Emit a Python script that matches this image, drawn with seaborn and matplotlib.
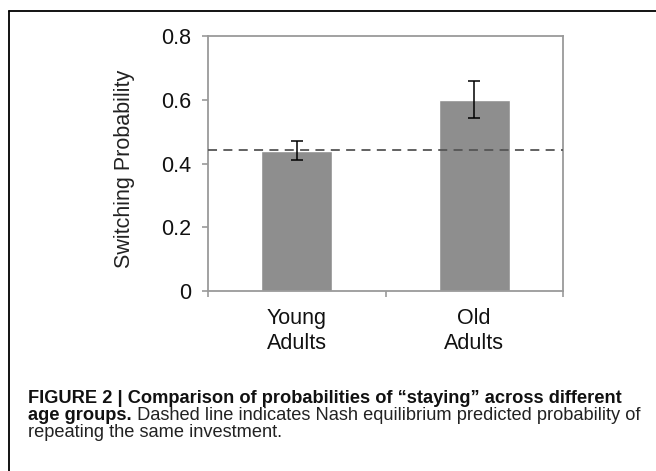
import seaborn as sns
import matplotlib.pyplot as plt
from matplotlib.lines import Line2D
from matplotlib.ticker import FixedLocator

# data
groups = ['Young\nAdults', 'Old\nAdults']
means = [0.44, 0.60]
errs = [0.030, 0.058]
nash = 0.442
yticks = [0, 0.2, 0.4, 0.6, 0.8]
yticklabels = ['0', '0.2', '0.4', '0.6', '0.8']

caption_bold1 = 'FIGURE 2 | Comparison of probabilities of \u201cstaying\u201d across different'
caption_bold2 = 'age groups.'
caption_rest2 = ' Dashed line indicates Nash equilibrium predicted probability of'
caption_line3 = 'repeating the same investment.'

sns.set_style('white')
plt.rcParams['font.family'] = ['Liberation Sans', 'DejaVu Sans']

fig = plt.figure(figsize=(6.56, 4.71), dpi=100)
ax = fig.add_axes([208 / 656, 1 - 291 / 471, 355 / 656, 255 / 471])

sns.barplot(x=groups, y=means, color='#8e8e8e', saturation=1, width=0.4, ax=ax)
ax.errorbar(x=range(len(groups)), y=means, yerr=errs, fmt='none',
            ecolor='black', elinewidth=1.1, capsize=4, capthick=1.1, zorder=5)
ax.axhline(nash, color='#555555', lw=1.3, ls=(0, (5, 3.5)), zorder=6)

ax.set_xlim(-0.5, 1.5)
ax.set_ylim(0, 0.8)
ax.set_yticks(yticks)
ax.set_yticklabels(yticklabels)
ax.xaxis.set_minor_locator(FixedLocator([-0.5, 0.5, 1.5]))
ax.tick_params(axis='x', which='major', length=0, pad=12, labelsize=15.5)
ax.tick_params(axis='x', which='minor', bottom=True, direction='out',
               length=4, color='#9a9a9a', width=1.2)
ax.tick_params(axis='y', left=True, direction='out', length=4,
               color='#9a9a9a', width=1.2, pad=8, labelsize=15.5)
for lab in ax.get_xticklabels():
    lab.set_linespacing(1.3)
    lab.set_color('#111111')
for lab in ax.get_yticklabels():
    lab.set_color('#111111')
ax.set_xlabel('')
ax.set_ylabel('Switching Probability', fontsize=15.5, color='#222222')
ax.yaxis.set_label_coords(-0.207, 0.48)
for sp in ax.spines.values():
    sp.set_visible(True)
    sp.set_color('#9a9a9a')
    sp.set_linewidth(1.3)
ax.grid(False)

# page frame (top and left)
fig.add_artist(Line2D([9 / 656, 1], [1 - 11 / 471, 1 - 11 / 471], color='black', lw=1.3,
                      transform=fig.transFigure))
fig.add_artist(Line2D([9 / 656, 9 / 656], [0, 1 - 11 / 471], color='black', lw=1.3,
                      transform=fig.transFigure))

# caption
cap_family = ['Liberation Sans Narrow', 'Liberation Sans', 'DejaVu Sans']
x0 = 28 / 656
fs = 11
renderer = fig.canvas.get_renderer()
t1 = fig.text(x0, 1 - 403 / 471, caption_bold1, fontsize=fs, fontweight='bold',
              family=cap_family, va='baseline', ha='left', color='#111111')
w = t1.get_window_extent(renderer).width
fs = fs * 594 / w
t1.set_fontsize(fs)
t2 = fig.text(x0, 1 - 420 / 471, caption_bold2, fontsize=fs, fontweight='bold',
              family=cap_family, va='baseline', ha='left', color='#111111')
bb = t2.get_window_extent(renderer)
fig.text(bb.x1 / fig.bbox.width, 1 - 420 / 471, caption_rest2, fontsize=fs,
         family=cap_family, va='baseline', ha='left', color='#222222')
fig.text(x0, 1 - 437 / 471, caption_line3, fontsize=fs,
         family=cap_family, va='baseline', ha='left', color='#222222')

fig.savefig('out.png', dpi=100)
